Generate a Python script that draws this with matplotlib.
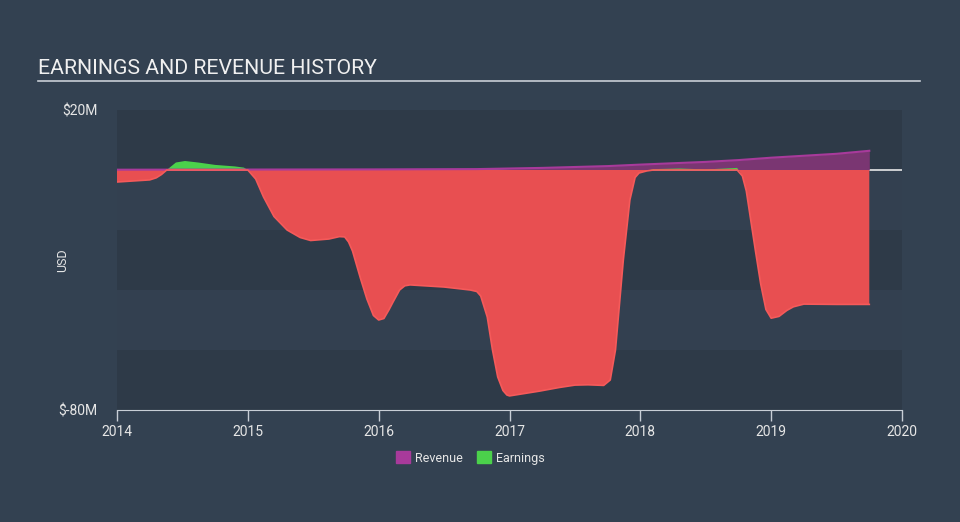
import numpy as np, matplotlib
matplotlib.use("Agg"); import matplotlib.pyplot as plt
from matplotlib.patches import Patch

plt.rcParams["font.family"] = ["Roboto", "DejaVu Sans"]

# earnings, $M (date as fractional year)
earn_t = [2014.00, 2014.25, 2014.30, 2014.34, 2014.38, 2014.45, 2014.52, 2014.62, 2014.75, 2014.90, 2014.97, 2015.00,
          2015.06, 2015.12, 2015.20, 2015.30, 2015.40, 2015.48, 2015.62, 2015.70, 2015.74, 2015.77, 2015.80, 2015.86, 2015.91,
          2015.96, 2016.00, 2016.04, 2016.08, 2016.11, 2016.16, 2016.20, 2016.24, 2016.50, 2016.70, 2016.75, 2016.78, 2016.83, 2016.87,
          2016.91, 2016.95, 2016.98, 2017.00, 2017.23, 2017.38, 2017.50, 2017.60, 2017.72, 2017.77, 2017.81, 2017.87, 2017.92,
          2017.96, 2017.99, 2018.05, 2018.10, 2018.30, 2018.50, 2018.65, 2018.74, 2018.78, 2018.81, 2018.84, 2018.88, 2018.92,
          2018.96, 2019.00, 2019.06, 2019.12, 2019.17, 2019.25, 2019.50, 2019.75]
earn_v = [-4.0, -3.3, -2.6, -1.5, 0.0, 2.5, 3.0, 2.5, 1.7, 1.2, 0.8, 0.0,
          -3.0, -9.0, -15.5, -20.0, -22.5, -23.5, -23.0, -22.2, -22.3, -24.0, -27.0, -36.0, -43.0,
          -48.5, -50.0, -49.5, -46.5, -44.0, -40.0, -38.6, -38.3, -39.0, -40.0, -40.5, -42.0, -49.0, -60.0,
          -69.0, -73.5, -75.0, -75.3, -73.7, -72.5, -71.7, -71.6, -71.8, -70.0, -60.0, -30.0, -10.0,
          -2.5, -1.0, -0.3, 0.3, 0.5, 0.2, 0.5, 0.7, -2.0, -7.0, -15.6, -27.0, -38.0,
          -46.5, -49.4, -48.8, -46.8, -45.6, -44.7, -44.8, -44.8]

# revenue, $M
rev_t = [2014.00, 2016.00, 2016.75, 2017.25, 2017.75, 2018.00, 2018.50, 2018.75, 2019.00, 2019.50, 2019.75]
rev_v = [0.1, 0.2, 0.3, 0.7, 1.3, 1.8, 2.7, 3.3, 4.1, 5.4, 6.4]

years = [2014, 2015, 2016, 2017, 2018, 2019, 2020]
ylim = (-80, 20)

BG = "#334151"
fig = plt.figure(figsize=(9.6, 5.22), dpi=100, facecolor=BG)
ax = fig.add_axes([117/960, 1-410/522, 785/960, 300/522])
ax.set_facecolor(BG)

# alternating horizontal bands (subtle)
for i, lo in enumerate(range(-80, 20, 20)):
    ax.axhspan(lo, lo+20, color="#2e3a48" if i % 2 == 0 else "#334050", lw=0, zorder=0)

et = np.array(earn_t); ev = np.array(earn_v)
ax.axhline(0, color="#e8e8e8", lw=1.2, zorder=1)
ax.fill_between(rev_t, 0, rev_v, color="#7a3672", lw=0, zorder=2)
ax.plot(rev_t, rev_v, color="#a83a9b", lw=1.5, zorder=3)
ax.fill_between(et, 0, ev, where=ev <= 0, interpolate=True, color="#e84f51", lw=0, zorder=2)
ax.fill_between(et, 0, ev, where=ev >= 0, interpolate=True, color="#4bd14b", lw=0, zorder=2)
ax.plot(et, np.minimum(ev, 0), color="#f55a5a", lw=1.2, zorder=3)

ax.set_xlim(2014, 2020)
ax.set_ylim(*ylim)
ax.set_xticks(years)
ax.set_xticklabels([str(y) for y in years], color="#e6e6e6", fontsize=10)
ax.tick_params(axis="x", length=8, color="#c8ced6", width=1, pad=3)
ax.set_yticks([20, -80])
ax.set_yticklabels(["$20M", "$-80M"], color="#e6e6e6", fontsize=10)
ax.tick_params(axis="y", length=0, pad=14)
for s in ["top", "right", "left"]:
    ax.spines[s].set_visible(False)
ax.spines["bottom"].set_color("#c8ced6")
ax.set_ylabel("USD", color="#e6e6e6", fontsize=9)
ax.yaxis.set_label_coords((69-117)/785, 0.5)

fig.text(38/960, 1-68/522, "EARNINGS AND REVENUE HISTORY", color="#f0f0f0", fontsize=15.3, va="center")
fig.add_artist(plt.Line2D([38/960, 920/960], [1-81/522, 1-81/522], color="#c8ced6", lw=1.2))

handles = [Patch(color="#a83a9b", label="Revenue"), Patch(color="#4bd14b", label="Earnings")]
fig.legend(handles=handles, loc="center", bbox_to_anchor=(0.49, 1-458/522), ncol=2, frameon=False,
           fontsize=9, labelcolor="#e6e6e6", handlelength=1.1, handleheight=1.1, columnspacing=1.2,
           handletextpad=0.4)

plt.savefig("out.png", dpi=100, facecolor=BG)
